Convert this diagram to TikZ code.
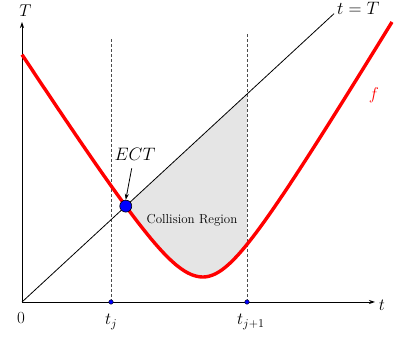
\RequirePackage{fix-cm}
\documentclass[tikz,border=0pt]{standalone}
\usepackage{fontspec}
\usetikzlibrary{intersections,arrows.meta}
\begin{document}
\begin{tikzpicture}[x=1pt,y=1pt,
  axis/.style={line width=0.8pt,-{Stealth[length=6pt,width=4pt]}},
  guide/.style={densely dashed,line width=0.6pt,black!70},
  fcurve/.style={red,line width=3.4pt},
  bigdot/.style={circle,draw=black,fill=blue,inner sep=0pt,minimum size=12pt,line width=0.6pt},
  smalldot/.style={circle,draw=black,fill=blue,inner sep=0pt,minimum size=4.5pt,line width=0.4pt},
  lbl/.style={font=\fontsize{17}{19}\selectfont,inner sep=0pt}]
\useasboundingbox (-22,-35) rectangle (391,302);
\def\fl{(sqrt(43.03+2.4*((\x-181)/10)^2)*10-40.6)}
\def\fr{(sqrt(43.03+2.757*((\x-181)/10)^2)*10-40.6)}
\coordinate (O) at (0,0);
\coordinate (xend) at (353,0);
\coordinate (yend) at (0,280);
\coordinate (dend) at (312,288.3);
\coordinate (tj) at (89,0);
\coordinate (tjtop) at (89,264);
\coordinate (tk) at (225,0);
\coordinate (tktop) at (225,269);
\coordinate (dk) at (225,207.9);
% shaded region
\begin{scope}
\clip (O) -- (dk) -- (tk) -- cycle;
\fill[black!10] plot[domain=0:181,samples=60,smooth] (\x,{\fl}) -- plot[domain=181:370,samples=60,smooth] (\x,{\fr}) -- (370,400) -- (0,400) -- cycle;
\end{scope}
% guides
\draw[guide] (tj) -- (tjtop);
\draw[guide] (tk) -- (tktop);
% axes
\draw[axis] (O) -- (xend);
\draw[axis] (O) -- (yend);
% diagonal
\draw[line width=0.8pt,name path=diag] (O) -- (dend);
% curve
\draw[fcurve,name path=fc] plot[domain=0:181,samples=60,smooth] (\x,{\fl}) -- plot[domain=181:370,samples=60,smooth] (\x,{\fr});
\path[name intersections={of=diag and fc,by=ect}];
% labels
\node[lbl,anchor=base west,font=\fontsize{18}{20}\selectfont] (tT) at (315,287) {$t=T$};
\node[lbl] (tlab) at (360,-3) {$t$};
\node[lbl] (Tlab) at (3.5,291.5) {$T$};
\node[lbl] (zero) at (-1,-16) {$0$};
\node[lbl,anchor=base west] (tjlab) at (83,-23) {$t_j$};
\node[lbl,anchor=base west] (tklab) at (215,-23) {$t_{j+1}$};
\node[lbl,red] (flab) at (352,206.5) {$f$};
\node[font=\fontsize{13}{15}\selectfont] (coll) at (170,82) {Collision Region};
\node[font=\fontsize{18}{20}\selectfont,inner sep=0pt] (ectlab) at (113,147.5) {$ECT$};
\node[bigdot] (ectdot) at (ect) {};
\coordinate (arrs) at (109.7,133.7);
\draw[line width=0.8pt,-{Stealth[length=6pt,width=4pt]}] (arrs) -- (ectdot.north);
\node[smalldot] (dj) at (tj) {};
\node[smalldot] (dk2) at (tk) {};
\end{tikzpicture}
\end{document}
